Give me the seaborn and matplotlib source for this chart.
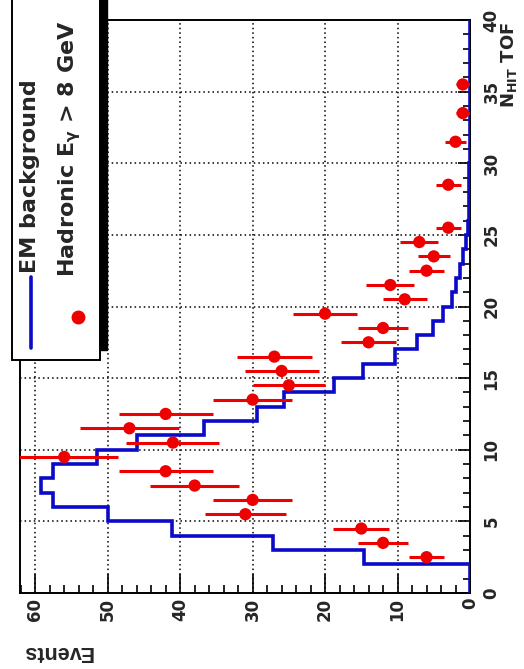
import numpy as np
import pandas as pd
import seaborn as sns
import matplotlib
matplotlib.use("Agg")
import matplotlib.pyplot as plt
from matplotlib.ticker import MultipleLocator
from matplotlib.patches import Rectangle
from matplotlib.lines import Line2D

# ---------------- data ----------------
# EM background histogram (bins of width 1 in N_HIT TOF, 0..40)
em_edges = list(range(0, 41))
em_values = [0, 0, 14.6, 27.2, 41.1, 50.0, 57.5, 59.2, 57.5, 51.5,
             46.0, 36.7, 29.4, 25.6, 18.8, 14.8, 10.4, 7.3, 5.1, 3.7,
             2.5, 2.0, 1.4, 1.0, 0.5, 0.3, 0.2, 0.15, 0.1, 0.1,
             0.05, 0, 0, 0, 0, 0, 0, 0, 0, 0]

# Hadronic E_gamma > 8 GeV data points (bin centres and counts)
had_nhit = [2.5, 3.5, 4.5, 5.5, 6.5, 7.5, 8.5, 9.5, 10.5, 11.5,
            12.5, 13.5, 14.5, 15.5, 16.5, 17.5, 18.5, 19.5, 20.5, 21.5,
            22.5, 23.5, 24.5, 25.5, 28.5, 31.5, 33.5, 35.5]
had_events = [6, 12, 15, 31, 30, 38, 42, 56, 41, 47,
              42, 30, 25, 26, 27, 14, 12, 20, 9, 11,
              6, 5, 7, 3, 3, 2, 1, 1]
had_err = list(np.sqrt(had_events))

events_ticks = [0, 10, 20, 30, 40, 50, 60]
nhit_ticks = [0, 5, 10, 15, 20, 25, 30, 35, 40]

legend_labels = ["EM background", r"Hadronic E$_{\gamma}$ > 8 GeV"]
xlabel = "Events"
ylabel = r"$\mathbf{N}_{\mathbf{HIT}}$ TOF"

df = pd.DataFrame({"nhit": had_nhit, "events": had_events, "err": had_err})

# ---------------- style ----------------
sns.set_style("white")
plt.rcParams["font.family"] = ["DejaVu Sans"]
plt.rcParams["font.weight"] = "bold"
plt.rcParams["mathtext.default"] = "regular"

W, H = 524, 669
fig = plt.figure(figsize=(W / 100, H / 100), dpi=100)

def fx(px):
    return px / W

def fy(py):
    return 1 - py / H

ax_l, ax_r, ax_t, ax_b = 20, 470, 20, 593
ax = fig.add_axes([fx(ax_l), fy(ax_b), (ax_r - ax_l) / W, (ax_b - ax_t) / H])

blue = "#0a0ac8"
red = "#ee0000"

# grid
ax.set_axisbelow(True)
ax.grid(True, which="major", linestyle=(0, (1, 2)), color="black", linewidth=1.1)

# EM background histogram (horizontal orientation: N_HIT vertical)
ax.stairs(em_values, em_edges, orientation="horizontal", color=blue,
          linewidth=2.6, baseline=None, zorder=3)

# data points with error bars
ax.errorbar(df["events"], df["nhit"], xerr=df["err"], fmt="none",
            ecolor=red, elinewidth=2.2, capsize=0, zorder=4)
sns.scatterplot(data=df, x="events", y="nhit", ax=ax, color=red, s=78,
                edgecolor="none", zorder=5, legend=False)

ax.set_xlim(62.1, 0)
ax.set_ylim(0, 40)
ax.set_xlabel("")
ax.set_ylabel("")

ax.xaxis.set_major_locator(MultipleLocator(10))
ax.xaxis.set_minor_locator(MultipleLocator(2))
ax.yaxis.set_major_locator(MultipleLocator(5))
ax.yaxis.set_minor_locator(MultipleLocator(1))
ax.set_xticks(events_ticks)
ax.set_yticks(nhit_ticks)

ax.yaxis.tick_right()
ax.tick_params(axis="y", which="both", direction="in", left=False, right=True,
               labelleft=False, labelright=True, labelrotation=90,
               labelsize=12, pad=9, color="black")
ax.tick_params(axis="y", which="major", length=9, width=1.2)
ax.tick_params(axis="y", which="minor", length=5, width=1.2)
ax.tick_params(axis="x", which="both", direction="in", bottom=True, top=False,
               labelbottom=True, labelrotation=90, labelsize=12, pad=3.5,
               color="black")
ax.tick_params(axis="x", which="major", length=14, width=1.2)
ax.tick_params(axis="x", which="minor", length=6, width=1.2)
for lab in ax.get_yticklabels():
    lab.set_fontweight("bold")
    lab.set_va("center")
for lab in ax.get_xticklabels():
    lab.set_fontweight("bold")

for sp in ax.spines.values():
    sp.set_color("black")
    sp.set_linewidth(1.4)
    sp.set_visible(True)

# axis titles
fig.text(fx(509), fy(22), ylabel, rotation=90, ha="center", va="top",
         fontsize=13, fontweight="bold")
fig.text(fx(57), fy(651), xlabel, rotation=180, ha="center", va="center",
         fontsize=15.5, fontweight="bold",
         family=["Liberation Sans", "DejaVu Sans"])

# legend (drawn manually, rotated)
fig.add_artist(Rectangle((fx(19), fy(350)), (107 - 19) / W, (350 + 20) / H,
                         transform=fig.transFigure, facecolor="black",
                         edgecolor="black", zorder=10))
fig.add_artist(Rectangle((fx(12), fy(360)), (100 - 12) / W, (360 + 20) / H,
                         transform=fig.transFigure, facecolor="white",
                         edgecolor="black", linewidth=1.4, zorder=11))
fig.add_artist(Line2D([fx(31), fx(31)], [fy(277), fy(348)],
                      transform=fig.transFigure, color=blue, linewidth=2.6,
                      zorder=12))
fig.add_artist(Line2D([fx(78)], [fy(317)], transform=fig.transFigure,
                      marker="o", markersize=9, color=red, linestyle="none",
                      zorder=12))
fig.text(fx(30), fy(273), legend_labels[0], rotation=90, ha="center",
         va="bottom", fontsize=16, fontweight="bold", zorder=13)
fig.text(fx(70), fy(277), legend_labels[1], rotation=90, ha="center",
         va="bottom", fontsize=16, fontweight="bold", zorder=13)

fig.savefig("out.png", dpi=100, facecolor="white")
